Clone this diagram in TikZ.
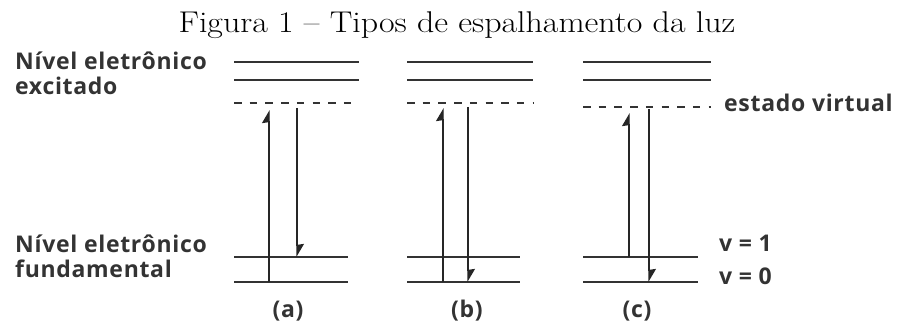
\documentclass[tikz,border=0pt]{standalone}
\usepackage{fontspec}
\newfontfamily\labelfont{Open Sans}[LetterSpace=3]
\usetikzlibrary{arrows.meta,positioning}

\begin{document}
\begin{tikzpicture}[x=1pt, y=-1pt,
    lvl/.style={line width=2pt, black!80},
    virt/.style={line width=2pt, black!80, dash pattern=on 7.5pt off 8.2pt},
    vib/.style={line width=1.2pt, black!80},
    trans/.style={line width=1.3pt, black!85, -{Stealth[harpoon, length=12pt, width=14pt, inset=1pt]}},
    lab/.style={font=\labelfont\bfseries\fontsize{23}{25}\selectfont, text=black!80, align=left, inner sep=0pt}
]
\useasboundingbox (0,0) rectangle (899,326);

\node[font=\fontsize{30}{36}\selectfont, anchor=base, xscale=1.13, transform shape] (title) at (457,33) {Figura 1 -- Tipos de espalhamento da luz};

% niveis de cada caso
\foreach \p/\xl/\xr/\xb/\yv in {a/234/359/348/103, b/407/533/520/103, c/583/711/698/107} {
  \draw[lvl] (\xl,62) -- (\xr,62);
  \draw[lvl] (\xl,80) -- (\xr,80);
  \draw[virt] (\xl,\yv) -- (\xr,\yv);
  \draw[vib] (\xl,257) -- (\xb,257);
  \draw[vib] (\xl,282) -- (\xb,282);
}

\node[lab, anchor=base west] (exc) at (15,95) {Nível eletrônico\\excitado};
\node[lab, anchor=base west] (fund) at (15,277) {Nível eletrônico\\fundamental};
\node[lab, anchor=base west] (virtual) at (724,112) {estado virtual};
\node[lab, anchor=base west] (v1) at (719,251) {v = 1};
\node[lab, anchor=base west] (v0) at (719,284) {v = 0};

\node[lab, anchor=base] (la) at (288,317) {(a)};
\node[lab, anchor=base] (lb) at (467,317) {(b)};
\node[lab, anchor=base] (lc) at (637,317) {(c)};

% (a) Stokes
\coordinate (a0) at (269,282);
\coordinate (a1) at (269,110);
\coordinate (a2) at (297,108);
\coordinate (a3) at (297,257);
% (b) Rayleigh
\coordinate (b0) at (443,282);
\coordinate (b1) at (443,108);
\coordinate (b2) at (468,107);
\coordinate (b3) at (468,282);
% (c) anti-Stokes
\coordinate (c0) at (629,257);
\coordinate (c1) at (629,113);
\coordinate (c2) at (649,109);
\coordinate (c3) at (649,282);

\draw[trans] (a0) -- (a1);
\draw[trans] (a2) -- (a3);
\draw[trans] (b0) -- (b1);
\draw[trans] (b2) -- (b3);
\draw[trans] (c0) -- (c1);
\draw[trans] (c2) -- (c3);
\end{tikzpicture}
\end{document}
